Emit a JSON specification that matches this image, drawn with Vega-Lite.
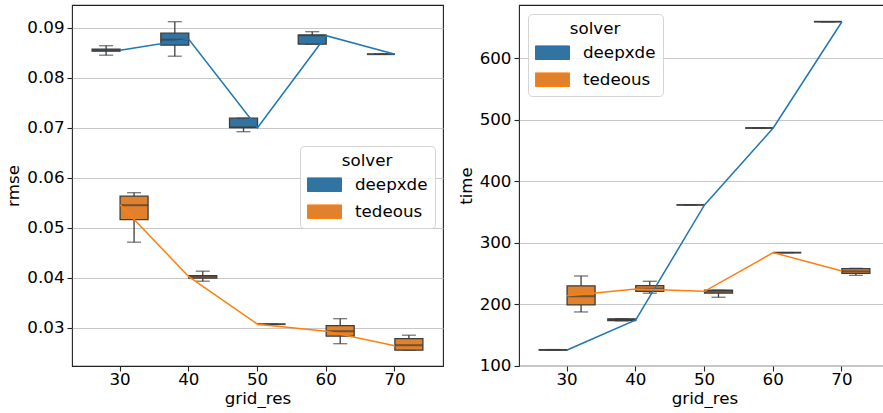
{
  "$schema": "https://vega.github.io/schema/vega-lite/v6.json",
  "padding": {"left": 5, "top": 4, "right": 0, "bottom": 0},
  "datasets": {
    "rmse": [
      {"grid_res": 30, "solver": "deepxde", "lo": 0.0845, "q1": 0.0853, "med": 0.0855, "q3": 0.0857, "hi": 0.0864, "mean": 0.0855},
      {"grid_res": 40, "solver": "deepxde", "lo": 0.0843, "q1": 0.0865, "med": 0.0876, "q3": 0.0889, "hi": 0.0912, "mean": 0.0877},
      {"grid_res": 50, "solver": "deepxde", "lo": 0.0692, "q1": 0.0700, "med": 0.0701, "q3": 0.0719, "hi": 0.0719, "mean": 0.0700},
      {"grid_res": 60, "solver": "deepxde", "lo": 0.0867, "q1": 0.0867, "med": 0.0885, "q3": 0.0885, "hi": 0.0892, "mean": 0.0884},
      {"grid_res": 70, "solver": "deepxde", "lo": 0.0847, "q1": 0.0847, "med": 0.0847, "q3": 0.0847, "hi": 0.0847, "mean": 0.0847},
      {"grid_res": 30, "solver": "tedeous", "lo": 0.0471, "q1": 0.0516, "med": 0.0545, "q3": 0.0563, "hi": 0.0570, "mean": 0.0546},
      {"grid_res": 40, "solver": "tedeous", "lo": 0.0393, "q1": 0.0399, "med": 0.0402, "q3": 0.0404, "hi": 0.0413, "mean": 0.0402},
      {"grid_res": 50, "solver": "tedeous", "lo": 0.0307, "q1": 0.0307, "med": 0.0307, "q3": 0.0307, "hi": 0.0307, "mean": 0.0307},
      {"grid_res": 60, "solver": "tedeous", "lo": 0.0268, "q1": 0.0283, "med": 0.0293, "q3": 0.0304, "hi": 0.0318, "mean": 0.0293},
      {"grid_res": 70, "solver": "tedeous", "lo": 0.0255, "q1": 0.0255, "med": 0.0265, "q3": 0.0278, "hi": 0.0285, "mean": 0.0264}
    ],
    "time": [
      {"grid_res": 30, "solver": "deepxde", "lo": 125.2, "q1": 125.5, "med": 125.7, "q3": 126.0, "hi": 126.3, "mean": 125.7},
      {"grid_res": 40, "solver": "deepxde", "lo": 173.0, "q1": 173.6, "med": 175.0, "q3": 176.0, "hi": 176.5, "mean": 174.5},
      {"grid_res": 50, "solver": "deepxde", "lo": 361.5, "q1": 361.5, "med": 361.5, "q3": 361.5, "hi": 361.5, "mean": 361.5},
      {"grid_res": 60, "solver": "deepxde", "lo": 486.7, "q1": 486.7, "med": 486.7, "q3": 486.7, "hi": 486.7, "mean": 486.7},
      {"grid_res": 70, "solver": "deepxde", "lo": 659.5, "q1": 659.5, "med": 659.5, "q3": 659.5, "hi": 659.5, "mean": 659.5},
      {"grid_res": 30, "solver": "tedeous", "lo": 187.5, "q1": 199.0, "med": 213.0, "q3": 230.0, "hi": 246.0, "mean": 214.0},
      {"grid_res": 40, "solver": "tedeous", "lo": 218.0, "q1": 221.0, "med": 225.4, "q3": 230.2, "hi": 237.4, "mean": 225.0},
      {"grid_res": 50, "solver": "tedeous", "lo": 211.4, "q1": 218.0, "med": 220.5, "q3": 222.8, "hi": 222.8, "mean": 221.0},
      {"grid_res": 60, "solver": "tedeous", "lo": 284.0, "q1": 284.0, "med": 284.0, "q3": 284.0, "hi": 284.0, "mean": 284.0},
      {"grid_res": 70, "solver": "tedeous", "lo": 247.0, "q1": 250.4, "med": 253.6, "q3": 258.0, "hi": 258.5, "mean": 254.0}
    ]
  },
  "hconcat": [
    {
      "width": 371,
      "height": 361,
      "data": {"name": "rmse"},
      "encoding": {
        "x": {"field": "grid_res", "type": "ordinal", "title": "grid_res",
              "scale": {"type": "band", "paddingInner": 0, "paddingOuter": 0.2}},
        "xOffset": {"field": "solver", "type": "nominal", "scale": {"domain": ["deepxde", "tedeous"], "paddingInner": 0, "paddingOuter": 0.228}}
      },
      "layer": [
        {
          "mark": {"type": "rule", "color": "#3d3d3d", "strokeWidth": 1.3},
          "encoding": {
            "y": {"field": "lo", "type": "quantitative", "title": "rmse",
                  "scale": {"domain": [0.02234, 0.09454], "nice": false, "zero": false},
                  "axis": {"values": [0.03, 0.04, 0.05, 0.06, 0.07, 0.08, 0.09], "format": ".2f"}},
            "y2": {"field": "hi"}
          }
        },
        {
          "mark": {"type": "tick", "color": "#3d3d3d", "size": 14, "thickness": 1.3},
          "encoding": {"y": {"field": "lo", "type": "quantitative"}}
        },
        {
          "mark": {"type": "tick", "color": "#3d3d3d", "size": 14, "thickness": 1.3},
          "encoding": {"y": {"field": "hi", "type": "quantitative"}}
        },
        {
          "mark": {"type": "bar", "stroke": "#3d3d3d", "strokeWidth": 1.3, "opacity": 1},
          "encoding": {
            "y": {"field": "q1", "type": "quantitative"},
            "y2": {"field": "q3"},
            "fill": {"field": "solver", "type": "nominal",
                     "scale": {"domain": ["deepxde", "tedeous"], "range": ["#3274a1", "#e1812c"]},
                     "legend": {"title": "solver", "orient": "none", "legendX": 228, "legendY": 141,
                                "encode": {"symbols": {"update": {"stroke": {"value": "#3d3d3d"}, "strokeWidth": {"value": 1}}}}}}
          }
        },
        {
          "mark": {"type": "tick", "color": "#3d3d3d", "size": 28, "thickness": 2},
          "encoding": {"y": {"field": "med", "type": "quantitative"}}
        },
        {
          "mark": {"type": "line", "strokeWidth": 1.5},
          "encoding": {
            "x": {"field": "grid_res", "type": "ordinal"},
            "xOffset": null,
            "y": {"field": "mean", "type": "quantitative"},
            "stroke": {"field": "solver", "type": "nominal",
                       "scale": {"domain": ["deepxde", "tedeous"], "range": ["#1f77b4", "#ff7f0e"]},
                       "legend": null}
          }
        }
      ]
    },
    {
      "width": 371,
      "height": 361,
      "data": {"name": "time"},
      "encoding": {
        "x": {"field": "grid_res", "type": "ordinal", "title": "grid_res",
              "scale": {"type": "band", "paddingInner": 0, "paddingOuter": 0.2}},
        "xOffset": {"field": "solver", "type": "nominal", "scale": {"domain": ["deepxde", "tedeous"], "paddingInner": 0, "paddingOuter": 0.228}}
      },
      "layer": [
        {
          "mark": {"type": "rule", "color": "#3d3d3d", "strokeWidth": 1.3},
          "encoding": {
            "y": {"field": "lo", "type": "quantitative", "title": "time",
                  "scale": {"domain": [99.6, 686.7], "nice": false, "zero": false},
                  "axis": {"values": [100, 200, 300, 400, 500, 600], "format": "d"}},
            "y2": {"field": "hi"}
          }
        },
        {
          "mark": {"type": "tick", "color": "#3d3d3d", "size": 14, "thickness": 1.3},
          "encoding": {"y": {"field": "lo", "type": "quantitative"}}
        },
        {
          "mark": {"type": "tick", "color": "#3d3d3d", "size": 14, "thickness": 1.3},
          "encoding": {"y": {"field": "hi", "type": "quantitative"}}
        },
        {
          "mark": {"type": "bar", "stroke": "#3d3d3d", "strokeWidth": 1.3, "opacity": 1},
          "encoding": {
            "y": {"field": "q1", "type": "quantitative"},
            "y2": {"field": "q3"},
            "fill": {"field": "solver", "type": "nominal",
                     "scale": {"domain": ["deepxde", "tedeous"], "range": ["#3274a1", "#e1812c"]},
                     "legend": {"title": "solver", "orient": "none", "legendX": 9, "legendY": 9,
                                "encode": {"symbols": {"update": {"stroke": {"value": "#3d3d3d"}, "strokeWidth": {"value": 1}}}}}}
          }
        },
        {
          "mark": {"type": "tick", "color": "#3d3d3d", "size": 28, "thickness": 2},
          "encoding": {"y": {"field": "med", "type": "quantitative"}}
        },
        {
          "mark": {"type": "line", "strokeWidth": 1.5},
          "encoding": {
            "x": {"field": "grid_res", "type": "ordinal"},
            "xOffset": null,
            "y": {"field": "mean", "type": "quantitative"},
            "stroke": {"field": "solver", "type": "nominal",
                       "scale": {"domain": ["deepxde", "tedeous"], "range": ["#1f77b4", "#ff7f0e"]},
                       "legend": null}
          }
        }
      ]
    }
  ],
  "spacing": 13,
  "resolve": {"scale": {"fill": "independent", "stroke": "independent", "y": "independent", "x": "independent", "xOffset": "independent"}, "legend": {"fill": "independent"}},
  "config": {
    "font": "DejaVu Sans",
    "view": {"stroke": "#222", "strokeWidth": 1.1},
    "axis": {"labelFontSize": 16.7, "titleFontSize": 16.7, "titleFontWeight": "normal", "labelColor": "#000", "titleColor": "#000",
             "tickColor": "#222", "tickSize": 5, "tickWidth": 1.1, "labelPadding": 3, "domain": false, "grid": false, "titlePadding": 4},
    "axisY": {"grid": true, "gridColor": "#c8c8c8", "gridWidth": 1},
    "axisX": {"labelAngle": 0, "labelPadding": 0, "titlePadding": 3},
    "legend": {"titleFontSize": 16.7, "titleFontWeight": "normal", "titleColor": "#000", "titleAnchor": "middle",
               "labelFontSize": 16.7, "labelColor": "#000",
               "symbolType": "M-2,-0.8H2V0.8H-2Z", "symbolSize": 289, "symbolStrokeColor": "#3d3d3d", "symbolStrokeWidth": 1,
               "symbolOffset": 8.5, "labelOffset": 21.5, "padding": 7, "rowPadding": 9, "titlePadding": 6,
               "fillColor": "rgba(255,255,255,0.8)", "strokeColor": "#d5d5d5", "cornerRadius": 4}
  }
}
